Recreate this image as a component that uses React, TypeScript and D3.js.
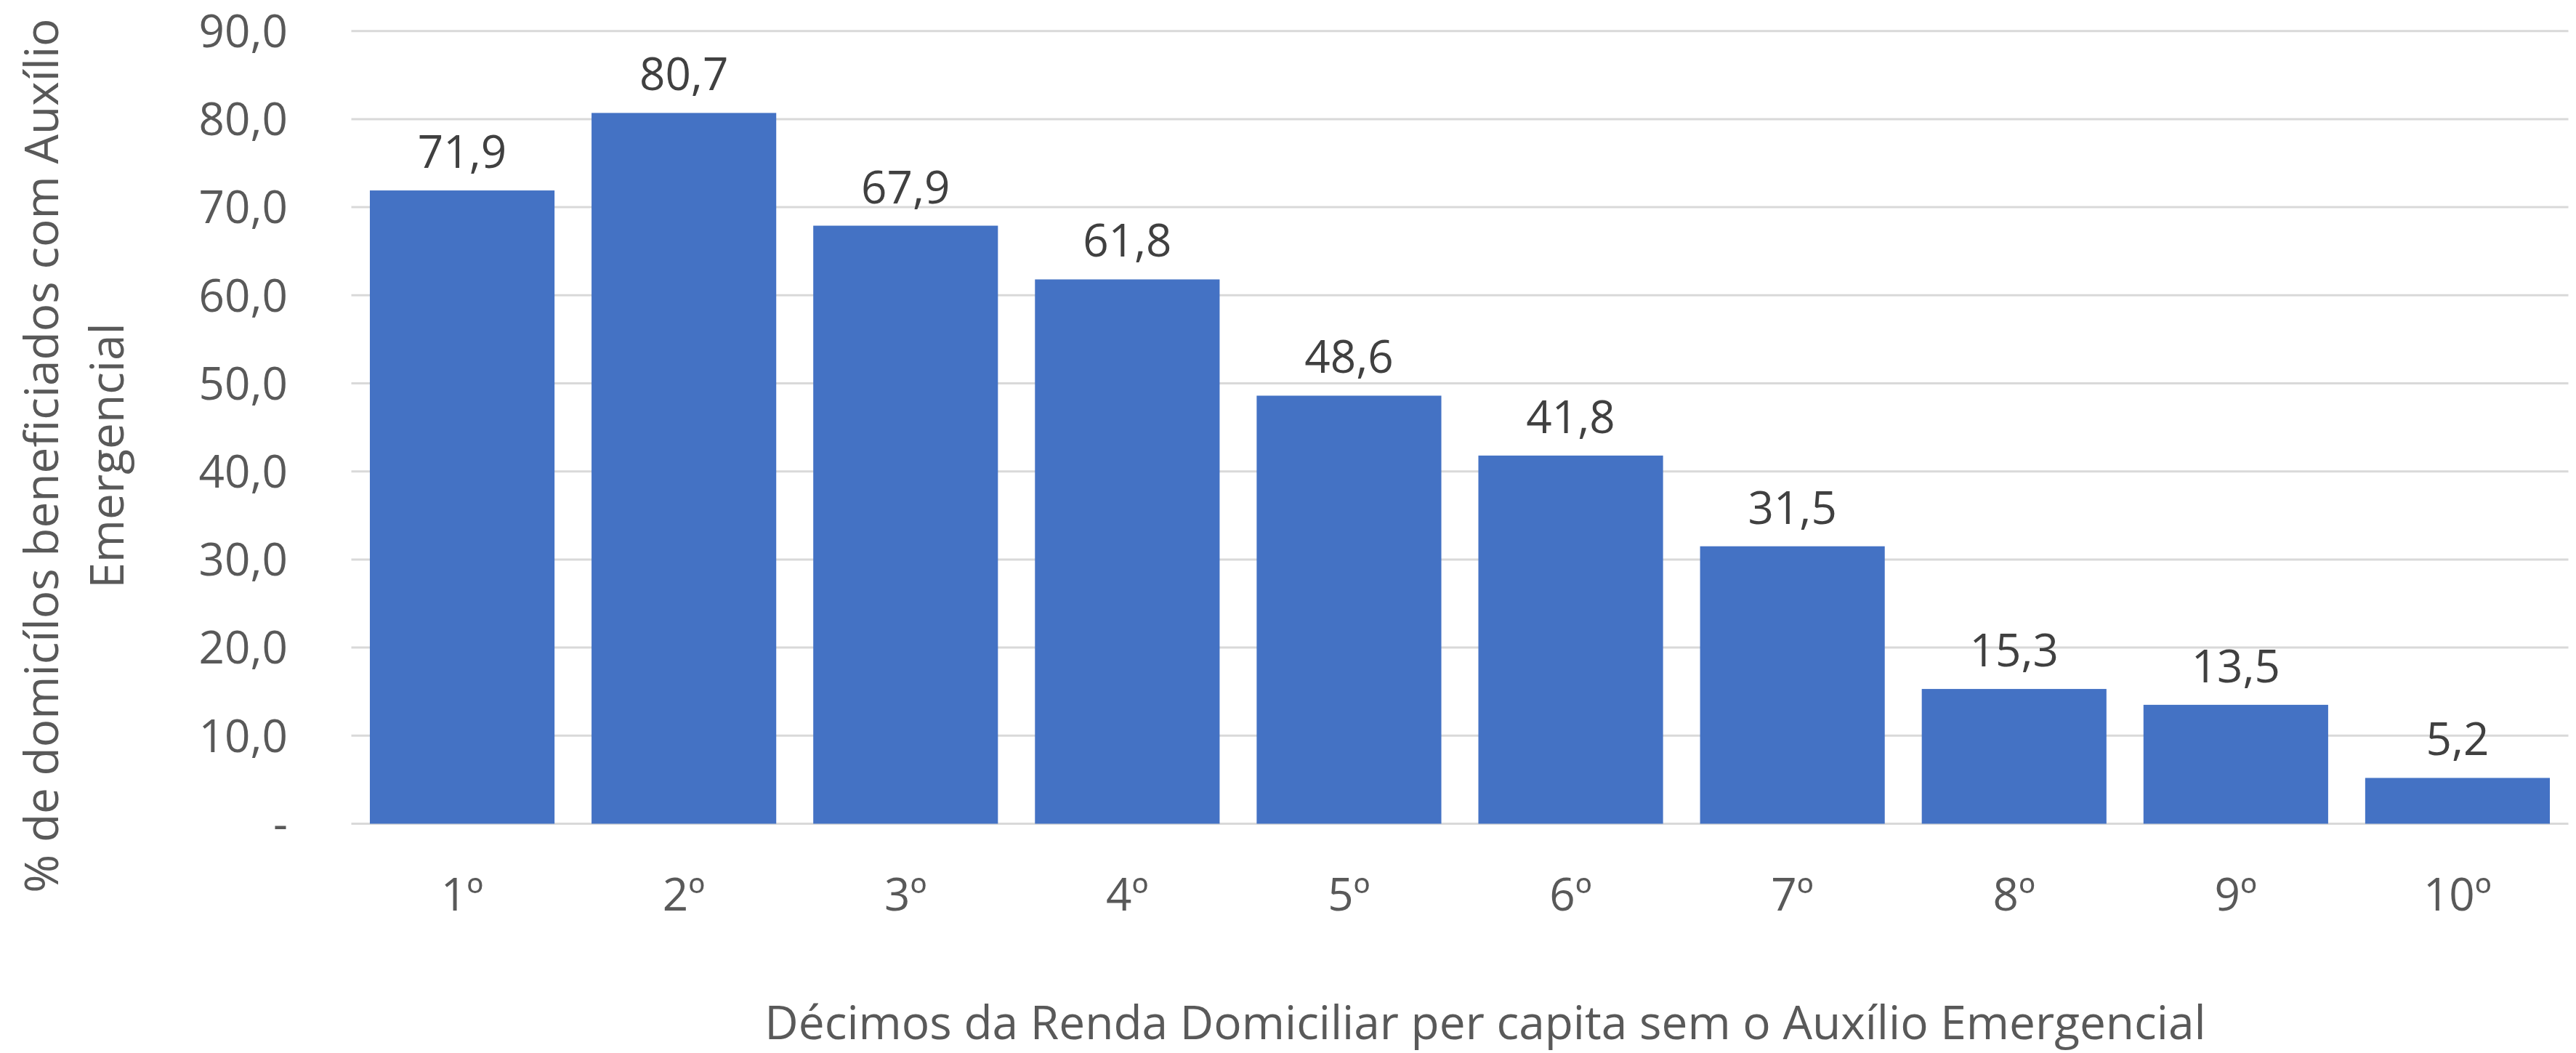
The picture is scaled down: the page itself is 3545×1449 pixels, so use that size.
import React from "react";
import * as d3 from "d3";

const categories = ["1º", "2º", "3º", "4º", "5º", "6º", "7º", "8º", "9º", "10º"];
const values = [71.9, 80.7, 67.9, 61.8, 48.6, 41.8, 31.5, 15.3, 13.5, 5.2];
const yTicks = [0, 10, 20, 30, 40, 50, 60, 70, 80, 90];
const yTitleLines = ["% de domicílos beneficiados com Auxílio", "Emergencial"];
const xTitle = "Décimos da Renda Domiciliar per capita sem o Auxílio Emergencial";

const W = 3545;
const H = 1449;
const FONT = "'Open Sans', 'Noto Sans', sans-serif";
const NUM_SIZE = 62;
const TITLE_SIZE = 64;

const fmt = (v: number) => (v === 0 ? "-" : d3.format(".1f")(v).replace(".", ","));

const App = () => {
  const x = d3.scaleBand<string>()
    .domain(categories)
    .range([483.5, 3534.5])
    .paddingInner(0.167)
    .paddingOuter(0.0835);

  const y = d3.scaleLinear().domain([0, 90]).range([1133.5, 42.7]);

  return (
    <svg
      width={W}
      height={H}
      style={{ position: "absolute", left: 0, top: 0, background: "#fff" }}
      fontFamily={FONT}
    >
      {/* gridlines */}
      {yTicks.map(t => (
        <line key={"g" + t} x1={483.5} x2={3534.5} y1={y(t)} y2={y(t)} stroke="#d9d9d9" strokeWidth={3} />
      ))}

      {/* y tick labels */}
      {yTicks.map(t => (
        <text key={"yt" + t} x={396} y={y(t)} dy="0.36em" textAnchor="end" fontSize={NUM_SIZE} fill="#595959">
          {fmt(t)}
        </text>
      ))}

      {/* bars */}
      {values.map((v, i) => (
        <rect
          key={"b" + i}
          x={x(categories[i])}
          y={y(v)}
          width={x.bandwidth()}
          height={y(0) - y(v)}
          fill="#4472c4"
        />
      ))}

      {/* data labels */}
      {values.map((v, i) => (
        <text
          key={"l" + i}
          x={(x(categories[i]) as number) + x.bandwidth() / 2}
          y={y(v) - 31}
          textAnchor="middle"
          fontSize={NUM_SIZE}
          fill="#404040"
        >
          {fmt(v)}
        </text>
      ))}

      {/* x tick labels */}
      {categories.map(c => (
        <text
          key={"xt" + c}
          x={(x(c) as number) + x.bandwidth() / 2}
          y={1253}
          textAnchor="middle"
          fontSize={NUM_SIZE}
          fill="#595959"
        >
          {c}
        </text>
      ))}

      {/* axis titles */}
      <text x={2044} y={1430} textAnchor="middle" fontSize={TITLE_SIZE} fill="#595959">
        {xTitle}
      </text>
      {yTitleLines.map((line, i) => (
        <text
          key={"yl" + i}
          transform={`translate(${80 + i * 90}, 627) rotate(-90)`}
          textAnchor="middle"
          fontSize={TITLE_SIZE}
          fill="#595959"
        >
          {line}
        </text>
      ))}
    </svg>
  );
};

export default App;
